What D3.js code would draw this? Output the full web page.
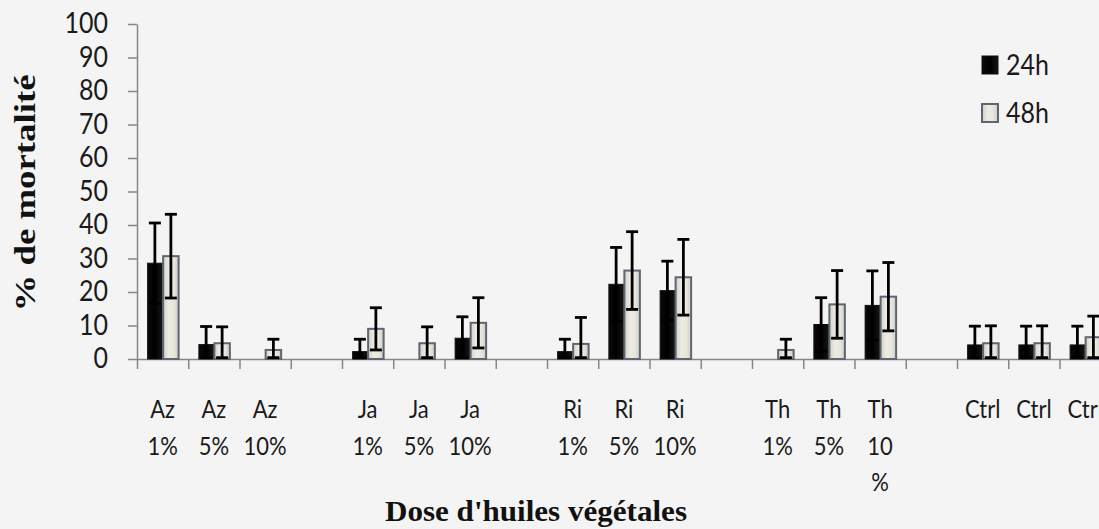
<!DOCTYPE html>
<html>
<head>
<meta charset="utf-8">
<script src="https://cdn.jsdelivr.net/npm/d3@7"></script>
<style>
  html, body { margin: 0; padding: 0; background: #f4f4f4; overflow: hidden; }
  svg { display: block; }
</style>
</head>
<body>
<script>
// ---- data ----
const categories = ["Az|1%","Az|5%","Az|10%","","Ja|1%","Ja|5%","Ja|10%","","Ri|1%","Ri|5%","Ri|10%","","Th|1%","Th|5%","Th|10|%","","Ctrl","Ctrl","Ctrl"];
const mort24 = [28.6, 4.3, 0, null, 2.2, 0, 6.2, null, 2.2, 22.3, 20.4, null, 0, 10.3, 16.0, null, 4.2, 4.2, 4.2];
const err24  = [12.0, 5.4, 0, null, 3.7, 0, 6.4, null, 3.7, 11.0, 8.8, null, 0, 8.0, 10.3, null, 5.6, 5.6, 5.6];
const mort48 = [30.7, 4.7, 2.7, null, 9.0, 4.7, 10.8, null, 4.5, 26.4, 24.4, null, 2.7, 16.3, 18.6, null, 4.7, 4.7, 6.5];
const err48  = [12.5, 4.9, 3.2, null, 6.3, 4.9, 7.5, null, 7.9, 11.6, 11.3, null, 3.2, 10.1, 10.2, null, 5.2, 5.2, 6.3];
const yTicks = [0,10,20,30,40,50,60,70,80,90,100];
const seriesNames = ["24h","48h"];
const yTitle = "% de mortalité";
const xTitle = "Dose d'huiles végétales";

// ---- layout ----
const W = 1099, H = 529;
const x0 = 137, slot = 51.25, n = categories.length;
const yTop = 24, yBot = 359;
const sansFont = "Lato, 'Open Sans', sans-serif";
const vStretch = 1.12;

const svg = d3.select("body").append("svg").attr("width", W).attr("height", H);
svg.append("rect").attr("width", W).attr("height", H).attr("fill", "#f4f4f4");

const defs = svg.append("defs");
const gBlack = defs.append("linearGradient").attr("id","gBlack").attr("x1","0").attr("x2","1").attr("y1","0").attr("y2","0");
gBlack.append("stop").attr("offset","0").attr("stop-color","#0a0a0a");
gBlack.append("stop").attr("offset","0.5").attr("stop-color","#000");
gBlack.append("stop").attr("offset","1").attr("stop-color","#151515");
const gLight = defs.append("linearGradient").attr("id","gLight").attr("x1","0").attr("x2","1").attr("y1","0").attr("y2","0");
gLight.append("stop").attr("offset","0").attr("stop-color","#cfd0cc");
gLight.append("stop").attr("offset","0.35").attr("stop-color","#ecebe2");
gLight.append("stop").attr("offset","0.7").attr("stop-color","#e9e7dc");
gLight.append("stop").attr("offset","1").attr("stop-color","#c9cacb");

const x = d3.scaleBand().domain(d3.range(n)).range([x0, x0 + n * slot]).paddingInner(0).paddingOuter(0);
const xLin = d3.scaleLinear().domain([0, n]).range([x0, x0 + n * slot]);
const y = d3.scaleLinear().domain([0, 100]).range([yBot, yTop]);

// y axis
const yAxis = svg.append("g").attr("transform", `translate(${x0},0)`)
  .call(d3.axisLeft(y).tickValues(yTicks).tickSize(9).tickSizeOuter(0).tickPadding(20));
yAxis.select(".domain").attr("stroke", "#878787").attr("stroke-width", 1.5);
yAxis.selectAll(".tick line").attr("stroke", "#878787").attr("stroke-width", 1.5);
yAxis.selectAll(".tick text").attr("font-family", sansFont).attr("font-size", 25).attr("fill", "#1a1a1a")
  .attr("transform", `scale(1,${vStretch})`);

// x axis (ticks at category boundaries)
const xAxis = svg.append("g").attr("transform", `translate(0,${yBot})`)
  .call(d3.axisBottom(xLin).tickValues(d3.range(n + 1)).tickFormat("").tickSize(10).tickSizeOuter(0));
xAxis.select(".domain").attr("stroke", "#878787").attr("stroke-width", 1.5);
xAxis.selectAll(".tick line").attr("stroke", "#878787").attr("stroke-width", 1.5);

// bars
const idx = d3.range(n);
const g24 = svg.append("g");
g24.selectAll("rect").data(idx.filter(i => mort24[i])).join("rect")
  .attr("x", i => x(i) + x.bandwidth() / 2 - 15)
  .attr("width", 14.5)
  .attr("y", i => y(mort24[i]))
  .attr("height", i => y(0) - y(mort24[i]))
  .attr("fill", "url(#gBlack)")
  .attr("stroke", "#111").attr("stroke-width", 1);

const g48 = svg.append("g");
g48.selectAll("rect").data(idx.filter(i => mort48[i])).join("rect")
  .attr("x", i => x(i) + x.bandwidth() / 2 + 0.5)
  .attr("width", 15.5)
  .attr("y", i => y(mort48[i]))
  .attr("height", i => y(0) - y(mort48[i]))
  .attr("fill", "url(#gLight)")
  .attr("stroke", "#5f6670").attr("stroke-width", 2);

// error bars
function errBars(vals, errs, offset) {
  const g = svg.append("g").attr("stroke", "#000").attr("stroke-width", 2.8).attr("fill", "none");
  const items = idx.filter(i => vals[i] && errs[i]);
  items.forEach(i => {
    const cx = x(i) + x.bandwidth() / 2 + offset;
    const hi = y(vals[i] + errs[i]);
    const lo = y(Math.max(0.4, vals[i] - errs[i]));
    g.append("line").attr("x1", cx).attr("x2", cx).attr("y1", hi).attr("y2", lo);
    g.append("line").attr("x1", cx - 6).attr("x2", cx + 6).attr("y1", hi).attr("y2", hi);
    g.append("line").attr("x1", cx - 6).attr("x2", cx + 6).attr("y1", lo).attr("y2", lo);
  });
}
errBars(mort24, err24, -7.75);
errBars(mort48, err48, 8.25);

// category labels
const lab = svg.append("g").attr("font-family", sansFont).attr("font-size", 22)
  .attr("fill", "#1a1a1a").attr("text-anchor", "middle");
idx.forEach(i => {
  if (!categories[i]) return;
  const cx = x(i) + x.bandwidth() / 2;
  categories[i].split("|").forEach((ln, k) => {
    lab.append("text")
      .attr("transform", `translate(${cx},${418 + k * 36.5}) scale(1,${vStretch})`)
      .text(ln);
  });
});

// axis titles
svg.append("text")
  .attr("transform", "translate(35,193) rotate(-90)")
  .attr("text-anchor", "middle")
  .attr("font-family", "'Liberation Serif', 'Times New Roman', serif")
  .attr("font-weight", "bold").attr("font-size", 29)
  .attr("textLength", 237).attr("lengthAdjust", "spacingAndGlyphs")
  .attr("fill", "#111").text(yTitle);

svg.append("text")
  .attr("x", 385).attr("y", 521)
  .attr("font-family", "'Liberation Serif', 'Times New Roman', serif")
  .attr("font-weight", "bold").attr("font-size", 30)
  .attr("textLength", 302).attr("lengthAdjust", "spacingAndGlyphs")
  .attr("fill", "#111").text(xTitle);

// legend
const leg = svg.append("g");
seriesNames.forEach((s, k) => {
  const ly = 65 + k * 48;
  leg.append("rect").attr("x", 982).attr("y", ly - 9).attr("width", 16).attr("height", 18)
    .attr("fill", k === 0 ? "url(#gBlack)" : "url(#gLight)")
    .attr("stroke", k === 0 ? "#111" : "#5f6670").attr("stroke-width", k === 0 ? 1 : 2);
  leg.append("text").attr("transform", `translate(1006,${ly}) scale(1,${vStretch})`).attr("dy", "0.36em")
    .attr("font-family", sansFont).attr("font-size", 25).attr("fill", "#1a1a1a").text(s);
});
</script>
</body>
</html>
